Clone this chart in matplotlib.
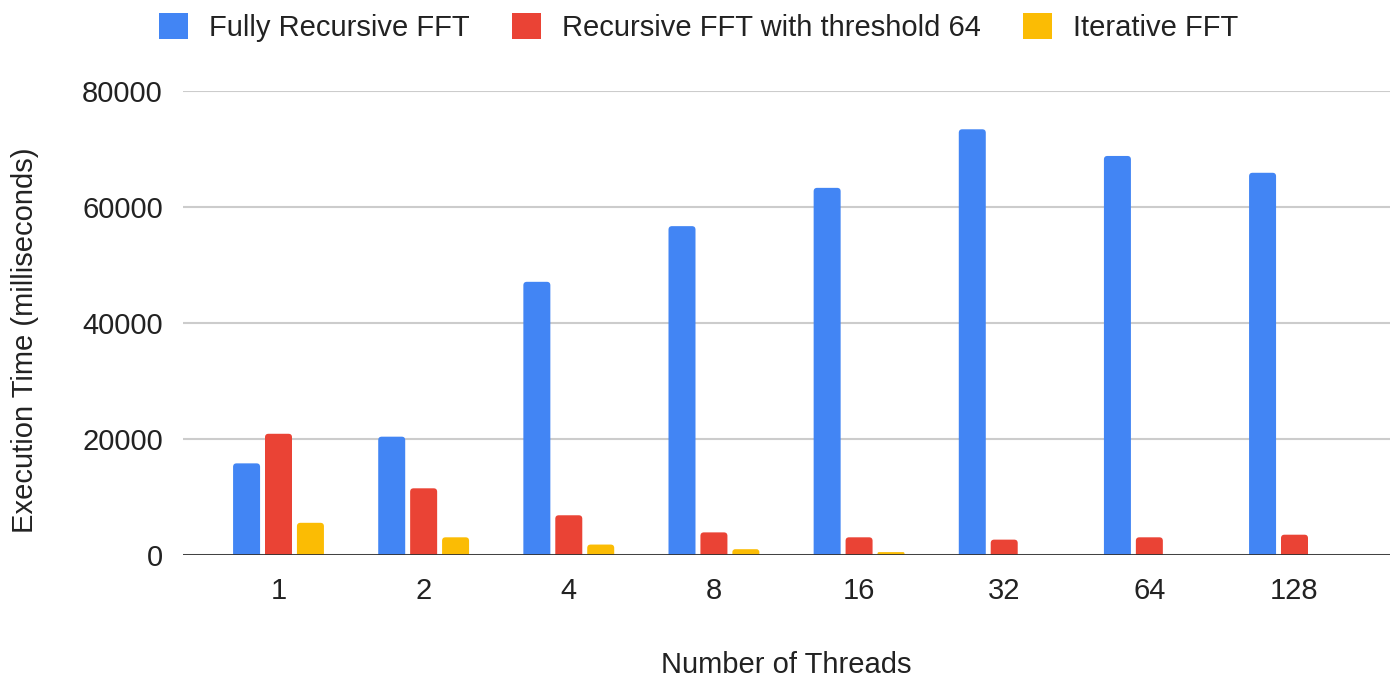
import matplotlib
matplotlib.use('Agg')
import matplotlib.pyplot as plt
import numpy as np
from matplotlib.patches import Patch, PathPatch
from matplotlib.path import Path

plt.rcParams['font.family'] = ['Liberation Sans', 'DejaVu Sans']

threads = ['1', '2', '4', '8', '16', '32', '64', '128']
fully_recursive = [15800, 20400, 47100, 56700, 63300, 73400, 68800, 65900]
threshold_64 = [20900, 11500, 6850, 3900, 3050, 2650, 3050, 3500]
iterative = [5550, 3050, 1800, 1000, 500, 0, 0, 0]

series = [
    ('Fully Recursive FFT', fully_recursive, '#4285F4'),
    ('Recursive FFT with threshold 64', threshold_64, '#EA4335'),
    ('Iterative FFT', iterative, '#FBBC04'),
]

W, H = 1393, 679
fig = plt.figure(figsize=(W / 100, H / 100), dpi=100)
ax = fig.add_axes([183 / W, 1 - 555 / H, (1390 - 183) / W, (555 - 91) / H])

x = np.arange(len(threads))
width = 0.186
step = 0.22
xlim = (-0.658, len(threads) - 1 + 0.658)
ylim = (0, 80000)
ax.set_xlim(*xlim)
ax.set_ylim(*ylim)

# data units per pixel, so the rounded tops stay circular
px_x = (xlim[1] - xlim[0]) / (1390 - 183)
px_y = (ylim[1] - ylim[0]) / (555 - 91)
radius_px = 3.5


def rounded_bar(left, w, h, color):
    r = min(radius_px, (h / px_y) / 2)
    rx, ry = r * px_x, r * px_y
    right = left + w
    verts = [(left, 0), (left, h - ry), (left, h), (left + rx, h),
             (right - rx, h), (right, h), (right, h - ry), (right, 0), (left, 0)]
    codes = [Path.MOVETO, Path.LINETO, Path.CURVE3, Path.CURVE3,
             Path.LINETO, Path.CURVE3, Path.CURVE3, Path.LINETO, Path.CLOSEPOLY]
    ax.add_patch(PathPatch(Path(verts, codes), facecolor=color,
                           edgecolor='none', zorder=3))


for i, (label, values, color) in enumerate(series):
    for xi, v in zip(x + (i - 1) * step, values):
        if v > 0:
            rounded_bar(xi - width / 2, width, v, color)

ax.set_yticks([0, 20000, 40000, 60000, 80000])
ax.set_xticks(x)
ax.set_xticklabels(threads)
ax.grid(axis='y', color='#cccccc', linewidth=1.5, zorder=0)
ax.axhline(0, color='#333333', linewidth=2, zorder=4)
for s in ax.spines.values():
    s.set_visible(False)
ax.tick_params(axis='both', length=0, labelsize=21, colors='#222222')
ax.tick_params(axis='x', pad=16)
ax.tick_params(axis='y', pad=14.5)

fig.text(25 / W, 1 - 340 / H, 'Execution Time (milliseconds)', rotation=90,
         ha='center', va='center', fontsize=21, color='#222222')
fig.text(786 / W, 1 - 665 / H, 'Number of Threads', ha='center', va='center',
         fontsize=21, color='#222222')

handles = [Patch(facecolor=c, edgecolor='none', label=l) for l, _, c in series]
fig.legend(handles=handles, loc='center', bbox_to_anchor=(0.5015, 0.96), ncol=3,
           frameon=False, fontsize=21, handlelength=1.0, handleheight=1.0,
           handletextpad=0.72, columnspacing=1.45, labelcolor='#222222')

fig.savefig('out.png', dpi=100)
